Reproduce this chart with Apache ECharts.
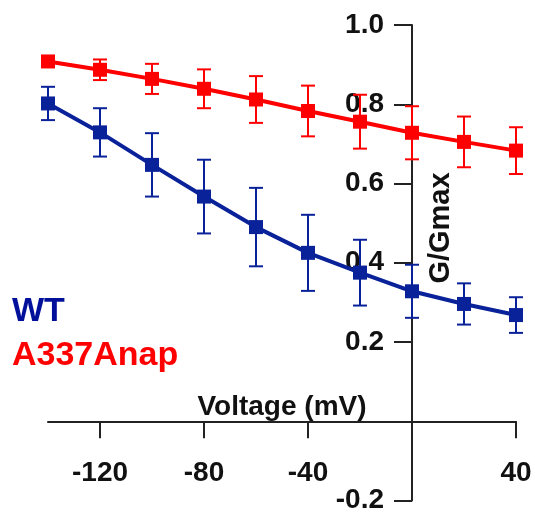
<!DOCTYPE html>
<html>
<head>
<meta charset="utf-8">
<script src="https://cdn.jsdelivr.net/npm/echarts@6/dist/echarts.min.js"></script>
<style>html,body{margin:0;padding:0;background:#fff;}#c{width:535px;height:513px;}</style>
</head>
<body>
<div id="c"></div>
<script>
const voltages = [-140, -120, -100, -80, -60, -40, -20, 0, 20, 40];
const wtMean = [0.802, 0.729, 0.647, 0.567, 0.490, 0.425, 0.375, 0.328, 0.296, 0.268];
const wtErr = [0.042, 0.061, 0.080, 0.093, 0.099, 0.096, 0.083, 0.067, 0.052, 0.045];
const napMean = [0.908, 0.887, 0.864, 0.839, 0.812, 0.783, 0.756, 0.728, 0.705, 0.683];
const napErr = [0.008, 0.026, 0.038, 0.049, 0.059, 0.064, 0.068, 0.067, 0.064, 0.059];
const xTickValues = [-120, -80, -40, 0, 40];
const xLabelValues = [-120, -80, -40, 40];
const yTickValues = [-0.2, 0.2, 0.4, 0.6, 0.8, 1.0];

const X_MIN = -140, X_MAX = 40, Y_MIN = -0.2, Y_MAX = 1.0;
const W = 535, H = 513;
const G_LEFT = 48, G_RIGHT = 19, G_TOP = 25, G_BOTTOM = 12.5;
const gw = W - G_LEFT - G_RIGHT, gh = H - G_TOP - G_BOTTOM;
// place the axes where the other axis' value is zero
const yAxisOffset = -((0 - X_MIN) / (X_MAX - X_MIN)) * gw;
const xAxisOffset = -((0 - Y_MIN) / (Y_MAX - Y_MIN)) * gh;

const BLUE = '#0a2299';
const RED = '#ff0000';
const FONT = '"Liberation Sans", Arial, sans-serif';

function errData(mean, err) {
  return voltages.map((v, i) => [v, mean[i] - err[i], mean[i] + err[i]]);
}
function errSeries(name, mean, err, color) {
  return {
    type: 'custom',
    name: name + ' err',
    data: errData(mean, err),
    z: 1,
    silent: true,
    renderItem: function (params, api) {
      const x = api.value(0);
      const lo = api.coord([x, api.value(1)]);
      const hi = api.coord([x, api.value(2)]);
      const hw = 7;
      const st = { stroke: color, lineWidth: 2 };
      return {
        type: 'group',
        children: [
          { type: 'line', shape: { x1: lo[0], y1: lo[1], x2: hi[0], y2: hi[1] }, style: st },
          { type: 'line', shape: { x1: lo[0] - hw, y1: lo[1], x2: lo[0] + hw, y2: lo[1] }, style: st },
          { type: 'line', shape: { x1: hi[0] - hw, y1: hi[1], x2: hi[0] + hw, y2: hi[1] }, style: st }
        ]
      };
    },
    encode: { x: 0, y: [1, 2] }
  };
}

const chart = echarts.init(document.getElementById('c'), null, { renderer: 'canvas' });
chart.setOption({
  animation: false,
  backgroundColor: '#ffffff',
  grid: { left: G_LEFT, right: G_RIGHT, top: G_TOP, bottom: G_BOTTOM, containLabel: false, outerBoundsMode: 'none' },
  xAxis: {
    type: 'value',
    position: 'bottom',
    offset: xAxisOffset,
    min: X_MIN, max: X_MAX, interval: 20,
    name: 'Voltage (mV)',
    nameLocation: 'middle',
    nameGap: 0,
    nameMoveOverlap: false,
    nameTextStyle: { fontFamily: FONT, fontWeight: 'bold', fontSize: 28, color: '#111', verticalAlign: 'bottom' },
    axisLine: { onZero: false, lineStyle: { color: '#222', width: 2 } },
    axisTick: { show: true, length: 17, inside: false, customValues: xTickValues, lineStyle: { color: '#222', width: 2 } },
    axisLabel: {
      customValues: xLabelValues,
      margin: 38,
      fontFamily: FONT, fontWeight: 'bold', fontSize: 28, color: '#111'
    },
    splitLine: { show: false }
  },
  yAxis: {
    type: 'value',
    position: 'left',
    offset: yAxisOffset,
    min: Y_MIN, max: Y_MAX, interval: 0.2,
    axisLine: { onZero: false, lineStyle: { color: '#222', width: 2 } },
    axisTick: { show: true, length: 18, inside: false, customValues: yTickValues, lineStyle: { color: '#222', width: 2 } },
    axisLabel: {
      customValues: yTickValues,
      margin: 28,
      formatter: function (v) { return (Math.round(v * 10) / 10).toFixed(1); },
      fontFamily: FONT, fontWeight: 'bold', fontSize: 28, color: '#111'
    },
    splitLine: { show: false }
  },
  graphic: [
    { type: 'text', x: 12, y: 312, style: { text: 'WT', fill: '#00109a', font: 'bold 34px "Liberation Sans", Arial, sans-serif', verticalAlign: 'middle', align: 'left' } },
    { type: 'text', x: 12, y: 356, style: { text: 'A337Anap', fill: RED, font: 'bold 34px "Liberation Sans", Arial, sans-serif', verticalAlign: 'middle', align: 'left' } },
    { type: 'text', x: 441, y: 228, rotation: Math.PI / 2, style: { text: 'G/Gmax', fill: '#111', font: 'bold 29px "Liberation Sans", Arial, sans-serif', align: 'center', verticalAlign: 'middle' } }
  ],
  series: [
    errSeries('WT', wtMean, wtErr, BLUE),
    errSeries('A337Anap', napMean, napErr, RED),
    {
      type: 'line', name: 'WT', z: 3,
      data: voltages.map((v, i) => [v, wtMean[i]]),
      symbol: 'rect', symbolSize: 14,
      itemStyle: { color: BLUE },
      lineStyle: { color: BLUE, width: 4 }
    },
    {
      type: 'line', name: 'A337Anap', z: 3,
      data: voltages.map((v, i) => [v, napMean[i]]),
      symbol: 'rect', symbolSize: 14,
      itemStyle: { color: RED },
      lineStyle: { color: RED, width: 4 }
    }
  ]
});
</script>
</body>
</html>
